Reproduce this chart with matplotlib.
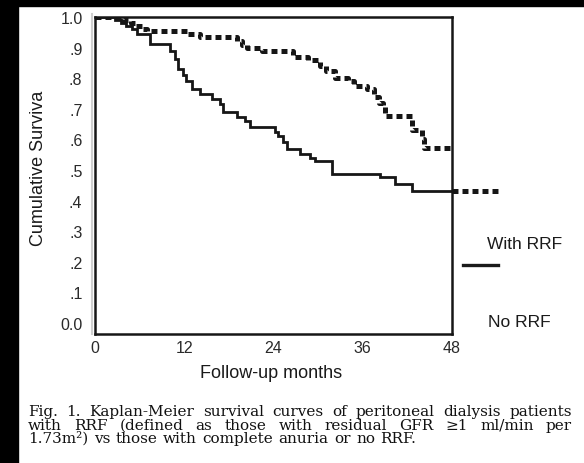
import matplotlib
matplotlib.use("Agg")
import matplotlib.pyplot as plt
from matplotlib.patches import Rectangle
from matplotlib.lines import Line2D

# Kaplan-Meier step curves (months, cumulative survival)
no_rrf_t = [0, 2.7, 3.5, 4.2, 5.0, 5.6, 7.4, 10.1, 10.7, 11.2, 11.8, 12.3, 13.0, 14.1,
            15.7, 16.8, 17.2, 19.1, 20.2, 20.8, 24.2, 24.6, 25.3, 25.8, 27.6, 28.9,
            29.6, 31.9, 38.3, 40.3, 42.6, 48]
no_rrf_s = [1.0, 0.99, 0.98, 0.97, 0.96, 0.944, 0.912, 0.89, 0.863, 0.83, 0.81, 0.79,
            0.765, 0.748, 0.732, 0.716, 0.69, 0.673, 0.66, 0.64, 0.624, 0.611, 0.59,
            0.569, 0.552, 0.54, 0.53, 0.487, 0.477, 0.454, 0.431, 0.431]

with_rrf_t = [0, 3.8, 4.8, 5.5, 6.3, 7.0, 12.4, 14.1, 19.1, 19.8, 20.4, 22.5, 26.6,
              28.6, 30.3, 31.0, 32.3, 34.0, 34.8, 36.6, 37.5, 38.2, 38.7, 39.0, 42.6,
              43.9, 44.3, 48]
with_rrf_s = [1.0, 0.99, 0.98, 0.97, 0.96, 0.953, 0.945, 0.935, 0.92, 0.91, 0.90, 0.89,
              0.87, 0.86, 0.84, 0.825, 0.80, 0.79, 0.775, 0.765, 0.74, 0.72, 0.71, 0.676,
              0.63, 0.60, 0.572, 0.572]

# dotted continuation past the last follow-up month
tail_t = [48, 54.2]
tail_s = [0.431, 0.431]

x_ticks = [0, 12, 24, 36, 48]
y_ticks = [0.0, 0.1, 0.2, 0.3, 0.4, 0.5, 0.6, 0.7, 0.8, 0.9, 1.0]
y_tick_labels = ["0.0", ".1", ".2", ".3", ".4", ".5", ".6", ".7", ".8", ".9", "1.0"]

caption = [
    "Fig. 1. Kaplan-Meier survival curves of peritoneal dialysis patients",
    "with RRF (defined as those with residual GFR \u22651 ml/min per",
    "1.73m\u00b2) vs those with complete anuria or no RRF.",
]

plt.rcParams['font.family'] = ['Liberation Sans', 'DejaVu Sans']
plt.rcParams['lines.scale_dashes'] = False

W, H = 584, 464
fig = plt.figure(figsize=(W / 100, H / 100), dpi=100, facecolor='white')

# black scan borders
fig.patches.append(Rectangle((0, 0), 18 / W, 1, transform=fig.transFigure,
                             color='black', zorder=0))
fig.patches.append(Rectangle((0, 1 - 7 / H), 1, 7 / H, transform=fig.transFigure,
                             color='black', zorder=0))

ax = fig.add_axes([95 / W, 1 - 335 / H, 357 / W, 317 / H])
ax.set_xlim(0, 48)
ax.set_ylim(-0.036, 1.0)

dash = (0, (4.3, 2.9))
ax.plot(no_rrf_t, no_rrf_s, drawstyle='steps-post', color='#161616', lw=2.0,
        solid_joinstyle='miter', zorder=3)
ax.plot(with_rrf_t, with_rrf_s, drawstyle='steps-post', color='#161616', lw=3.6,
        linestyle=dash, dash_capstyle='butt', zorder=3)
ax.plot(tail_t, tail_s, color='#161616', lw=3.6, linestyle=dash,
        dash_capstyle='butt', clip_on=False, zorder=3)

for s in ax.spines.values():
    s.set_linewidth(1.8)
    s.set_color('#161616')

ax.set_xticks(x_ticks)
ax.set_xticklabels([str(v) for v in x_ticks])
ax.set_yticks(y_ticks)
ax.set_yticklabels(y_tick_labels)
ax.tick_params(length=0, labelsize=11.5, labelcolor='#2a2a2a')
ax.tick_params(axis='y', pad=9)
ax.tick_params(axis='x', pad=4)

ax.set_xlabel("Follow-up months", fontsize=13, color='#1a1a1a')
ax.xaxis.set_label_coords(0.493, -0.095)
ax.set_ylabel("Cumulative Surviva", fontsize=13, color='#1a1a1a')
ax.yaxis.set_label_coords(-0.134, 0.527)

# faint rule beside the y axis
fig.lines.append(Line2D([92 / W, 92 / W], [1 - 335 / H, 1 - 15 / H],
                        transform=fig.transFigure, color='#cfcfcf', lw=1.5))

# legend
ax.plot([1.031, 1.129], [0.218, 0.218], transform=ax.transAxes, color='#1a1a1a',
        lw=2.4, clip_on=False)
ax.text(1.098, 0.284, "With RRF", transform=ax.transAxes, fontsize=12.5,
        va='center', ha='left', color='#1a1a1a')
ax.text(1.101, 0.038, "No RRF", transform=ax.transAxes, fontsize=12.5,
        va='center', ha='left', color='#1a1a1a')

# justified caption
renderer = fig.canvas.get_renderer()
cap_font = dict(family=['DejaVu Serif'], fontsize=11,
                color='#111111', va='baseline', ha='left')
x0, x1 = 28, 572
baselines = [416, 430, 443]
for i, line in enumerate(caption):
    words = line.split()
    texts = [fig.text(0, 1 - baselines[i] / H, w, **cap_font) for w in words]
    widths = [t.get_window_extent(renderer).width for t in texts]
    if i < len(caption) - 1:
        gap = (x1 - x0 - sum(widths)) / (len(words) - 1)
    else:
        gap = 5.5
    x = x0
    for t, w in zip(texts, widths):
        t.set_x(x / W)
        x += w + gap

fig.savefig("out.png", dpi=100, facecolor='white')
